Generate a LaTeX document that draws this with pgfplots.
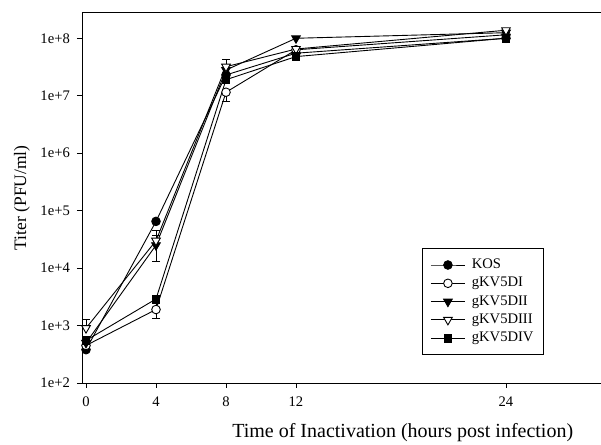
\documentclass[border=0pt]{standalone}
\usepackage{fontspec}
\setmainfont{Liberation Serif}
\usepackage{pgfplots}
\pgfplotsset{compat=1.18}
\newcommand{\lf}{\fontsize{14.6}{18}\selectfont}
\pgfplotsset{
  eb/.style={error bars/.cd, y dir=both, y explicit,
    error bar style={line width=0.8pt, black},
    error mark options={rotate=90, mark size=4pt, line width=0.8pt, black}},
}
\begin{document}
\begin{tikzpicture}
\begin{axis}[
  at={(0,0)}, anchor=south west,
  scale only axis, width=519pt, height=370.3pt,
  ymode=log,
  xmin=-0.229, xmax=29.43,
  ymin=100, ymax=2.786e8,
  axis x line*=box, axis y line*=left,
  axis line style={line width=0.8pt},
  xtick pos=bottom, ytick pos=left,
  tick align=outside, major tick length=5pt,
  tick style={line width=0.8pt, black},
  xtick={0,4,8,12,24}, xticklabels={0,4,8,12,24},
  ytick={1e2,1e3,1e4,1e5,1e6,1e7,1e8},
  yticklabels={1e+2,1e+3,1e+4,1e+5,1e+6,1e+7,1e+8},
  yminorticks=false,
  tick label style={font=\fontsize{14.6}{17}\selectfont, inner sep=0pt},
  xticklabel style={anchor=north, yshift=-9pt},
  yticklabel style={anchor=east, xshift=-7pt},
  xlabel={Time of Inactivation (hours post infection)},
  ylabel={Titer (PFU/ml)},
  every axis x label/.style={at={(rel axis cs:0.618,0)}, anchor=base,
    yshift=-54pt, font=\fontsize{20}{24}\selectfont},
  every axis y label/.style={at={(rel axis cs:0,0.5)}, xshift=-60pt,
    rotate=90, anchor=center, font=\fontsize{17.5}{20}\selectfont},
  legend cell align=left,
  legend image code/.code={\draw[mark repeat=2,mark phase=2]
    plot coordinates {(0pt,0pt) (17pt,0pt) (34pt,0pt)};},
  legend style={at={(rel axis cs:0.89,0.0756)}, anchor=south east,
    draw=black, line width=0.8pt, inner xsep=8.5pt, inner ysep=8pt,
    row sep=1.5pt, column sep=5pt, font=\lf,
    nodes={inner sep=1.5pt, text height=10.5pt, text depth=3.3pt}},
]
\addplot[black, line width=0.9pt, mark=*, mark size=4.3pt, eb]
  coordinates {(0,380) (4,6.5e4) (8,2.3e7) (12,5.5e7) (24,1.0e8)};
\addlegendentry{\lf KOS}
\addplot[black, line width=0.9pt, mark=*, mark size=4.3pt,
  mark options={fill=white}, eb]
  coordinates {(0,450) (4,1900) +- (0,550) (8,1.15e7) -= (0,3.6e6)
    (12,6.3e7) (24,1.15e8)};
\addlegendentry{\lf gKV5DI}
\addplot[black, line width=0.9pt, mark=triangle*, mark size=5pt,
  mark options={rotate=180}, eb]
  coordinates {(0,500) (4,2.5e4) +- (0,1.2e4) (8,2.8e7) (12,1.0e8)
    (24,1.25e8)};
\addlegendentry{\lf gKV5DII}
\addplot[black, line width=0.9pt, mark=triangle*, mark size=5pt,
  mark options={rotate=180, fill=white}, eb]
  coordinates {(0,900) += (0,360) (4,3.0e4) += (0,1.6e4)
    (8,3.2e7) += (0,1.1e7) (12,6.5e7) (24,1.38e8)};
\addlegendentry{\lf gKV5DIII}
\addplot[black, line width=0.9pt, mark=square*, mark size=3.8pt, eb]
  coordinates {(0,550) (4,2900) (8,1.9e7) (12,4.8e7) (24,1.0e8)};
\addlegendentry{\lf gKV5DIV}
\end{axis}
\pgfresetboundingbox
\path[use as bounding box] (-82pt,-61pt) rectangle (519pt,383pt);
\end{tikzpicture}
\end{document}
